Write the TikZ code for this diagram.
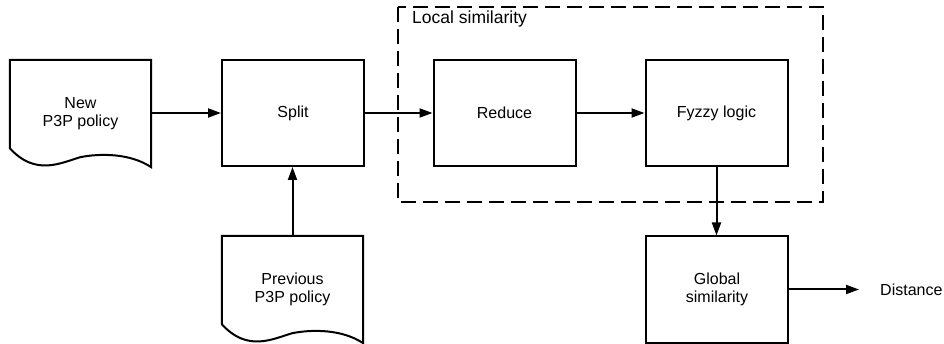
\documentclass[tikz,border=0pt]{standalone}
\usepackage{fontspec}
\setmainfont{Liberation Sans}
\usetikzlibrary{arrows.meta}

% Document-shaped outline with a wavy bottom edge around a named node
\newcommand\docoutline[1]{%
  \draw[outline] (#1.north west) -- (#1.north east) -- (#1.south east)
    .. controls ([shift={(-21,-14)}]#1.south east) and ([shift={(-51,-14)}]#1.south east)
    .. ([shift={(-71,-10)}]#1.south east)
    .. controls ([shift={(-91,-4)}]#1.south east) and ([shift={(-116,9)}]#1.south east)
    .. ([shift={(0,-19)}]#1.south west) -- cycle;}

\begin{document}
\begin{tikzpicture}[x=1pt,y=-1pt,
  outline/.style={draw=black,line width=2pt,line join=miter},
  procbox/.style={outline,rectangle,minimum width=142pt,minimum height=106pt,
    inner sep=0pt,align=center,font=\fontsize{16}{18}\selectfont},
  docnode/.style={rectangle,minimum width=141pt,minimum height=107pt,
    inner sep=0pt,align=center,font=\fontsize{16}{18}\selectfont},
  flow/.style={line width=2pt,-{Triangle[length=13pt,width=9pt]}},
  group/.style={draw=black,line width=2pt,dash pattern=on 15pt off 7pt}
]
\useasboundingbox (0,0) rectangle (944,344);

% Local similarity group frame
\draw[group] (398,7) rectangle (823,202);
\node[anchor=base west,inner sep=0pt,font=\fontsize{17.5}{20}\selectfont]
  (grouplabel) at (412,24) {Local similarity};

% Input documents
\node[docnode] (new) at (80.5,113.5) {New\\P3P policy};
\docoutline{new}
\node[docnode] (prev) at (292.5,289.5) {Previous\\P3P policy};
\docoutline{prev}

% Processing steps
\node[procbox] (split) at (293,113) {Split};
\node[procbox] (reduce) at (504.5,113) {Reduce};
\node[procbox] (fuzzy) at (716.5,113) {Fyzzy logic};
\node[procbox] (global) at (717,289.5) {Global\\similarity};

% Output
\node[anchor=west,inner sep=0pt,font=\fontsize{16}{18}\selectfont]
  (dist) at (880,289.5) {Distance};
\coordinate (distin) at (859,289.5);

% Connectors
\draw[flow] (new.east |- split.west) -- (split.west);
\draw[flow] (split.east) -- (reduce.west);
\draw[flow] (reduce.east) -- (fuzzy.west);
\draw[flow] (prev.north) -- (prev.north |- split.south);
\draw[flow] (fuzzy.south) -- (fuzzy.south |- global.north);
\draw[flow] (global.east) -- (distin);
\end{tikzpicture}
\end{document}
